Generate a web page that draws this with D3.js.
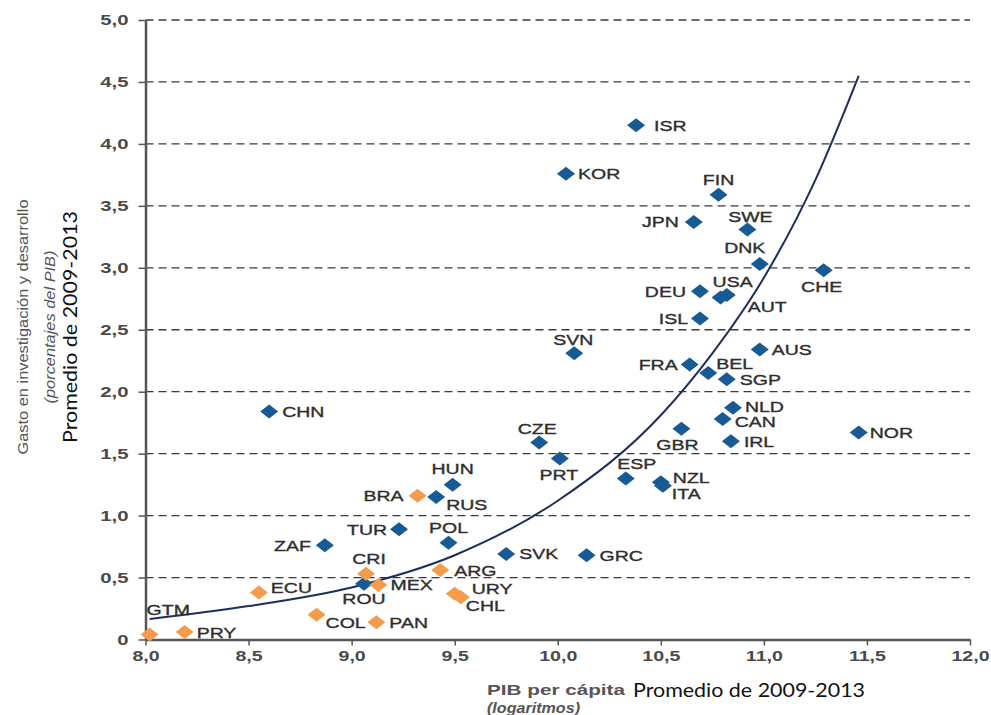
<!DOCTYPE html>
<html>
<head>
<meta charset="utf-8">
<script src="https://cdn.jsdelivr.net/npm/d3@7"></script>
<style>
  body { margin: 0; background: #fff; }
</style>
</head>
<body>
<div id="chart"></div>
<script>
// R&D spending vs. GDP per capita, averages 2009-2013
var countries = ["ISR","KOR","FIN","JPN","SWE","DNK","CHE","DEU","USA","AUT","ISL","SVN","FRA","BEL","SGP","AUS",
                 "NLD","CAN","GBR","IRL","NOR","CZE","PRT","ESP","NZL","ITA","SVK","GRC","HUN","RUS","TUR","POL",
                 "ZAF","ROU","CHN",
                 "BRA","CRI","ARG","MEX","ECU","URY","CHL","COL","PAN","GTM","PRY"];
var gdpLog  = [10.38,10.04,10.78,10.66,10.92,10.98,11.29,10.69,10.79,10.82,10.69,10.08,10.64,10.73,10.82,10.98,
               10.85,10.80,10.60,10.84,11.46, 9.91,10.01,10.33,10.50,10.51, 9.75,10.14, 9.49, 9.41, 9.23, 9.47,
                8.87, 9.06, 8.60,
                9.32, 9.07, 9.43, 9.13, 8.55, 9.50, 9.53, 8.83, 9.12, 8.02, 8.19];
var rdShare = [4.15,3.76,3.59,3.37,3.31,3.03,2.98,2.81,2.76,2.78,2.59,2.31,2.22,2.15,2.10,2.34,
               1.87,1.78,1.70,1.60,1.67,1.59,1.46,1.30,1.27,1.24,0.69,0.68,1.25,1.15,0.89,0.78,
               0.76,0.45,1.84,
               1.16,0.53,0.56,0.44,0.38,0.37,0.34,0.20,0.14,0.04,0.06];
var groups  = ["a","a","a","a","a","a","a","a","a","a","a","a","a","a","a","a",
               "a","a","a","a","a","a","a","a","a","a","a","a","a","a","a","a",
               "a","a","a",
               "b","b","b","b","b","b","b","b","b","b","b"];

// fitted trend curve
var trendX = [8.02, 8.5, 9.0, 9.5, 10.0, 10.5, 10.75, 11.0, 11.25, 11.46];
var trendY = [0.165, 0.27, 0.42, 0.68, 1.12, 1.81, 2.31, 2.92, 3.71, 4.55];

var yTicks = [0, 0.5, 1, 1.5, 2, 2.5, 3, 3.5, 4, 4.5, 5];
var xTicks = [8, 8.5, 9, 9.5, 10, 10.5, 11, 11.5, 12];

// label placement: [dx, dy, anchor] relative to the marker
var labelPos = {
  ISR:[18,0,"start"], KOR:[12,0,"start"], FIN:[0,-15,"middle"], JPN:[-15,0,"end"],
  SWE:[3,-13,"middle"], DNK:[-15,-16,"middle"], CHE:[-2,16,"middle"], DEU:[-14,0,"end"],
  USA:[12,-16,"middle"], AUT:[21,12,"start"], ISL:[-12,0,"end"], SVN:[-1,-14,"middle"],
  FRA:[-12,0,"end"], BEL:[8,-10,"start"], SGP:[13,0,"start"], AUS:[12,0,"start"],
  NLD:[12,-1,"start"], CAN:[12,3,"start"], GBR:[-4,16,"middle"], IRL:[13,0,"start"],
  NOR:[11,0,"start"], CZE:[-2,-14,"middle"], PRT:[-1,16,"middle"], ESP:[11,-15,"middle"],
  NZL:[12,-5,"start"], ITA:[9,8,"start"], SVK:[13,0,"start"], GRC:[13,0,"start"],
  HUN:[0,-16,"middle"], RUS:[10,8,"start"], TUR:[-12,0,"end"], POL:[0,-15,"middle"],
  ZAF:[-14,0,"end"], ROU:[0,15,"middle"], CHN:[13,0,"start"], BRA:[-14,0,"end"],
  CRI:[3,-15,"middle"], ARG:[14,0,"start"], MEX:[12,0,"start"], ECU:[12,-5,"start"],
  URY:[17,-5,"start"], CHL:[5,8,"start"], COL:[9,8,"start"], PAN:[13,0,"start"],
  GTM:[-3,-25,"start"], PRY:[12,1,"start"]
};

var colors = { a: "#175a94", b: "#f59c4c" };
var width = 991, height = 715;
var labelFont = "'Liberation Sans', Arial, sans-serif";

var svg = d3.select("#chart")
  .append("svg")
    .attr("width", width)
    .attr("height", height);

var x = d3.scaleLinear().domain([8, 12]).range([145.5, 970]);
var y = d3.scaleLinear().domain([0, 5]).range([639.5, 20]);

var comma = function(d) { return d === 0 ? "0" : d3.format(".1f")(d).replace(".", ","); };

// dashed gridlines
svg.append("g")
  .selectAll("line")
  .data(yTicks.filter(function(d) { return d > 0; }))
  .enter()
  .append("line")
    .attr("x1", x(8)).attr("x2", x(12))
    .attr("y1", function(d) { return y(d); })
    .attr("y2", function(d) { return y(d); })
    .attr("stroke", "#3a3a3a")
    .attr("stroke-width", 1.3)
    .attr("stroke-dasharray", "8,5");

// axes
var yAxis = svg.append("g")
  .attr("transform", "translate(" + x(8) + ",0)")
  .call(d3.axisLeft(y).tickValues(yTicks).tickSize(7).tickSizeOuter(0).tickPadding(10).tickFormat(comma));

var xAxis = svg.append("g")
  .attr("transform", "translate(0," + y(0) + ")")
  .call(d3.axisBottom(x).tickValues(xTicks).tickSize(6).tickSizeOuter(0).tickPadding(5).tickFormat(comma));

[yAxis, xAxis].forEach(function(ax) {
  ax.select(".domain").attr("stroke", "#555").attr("stroke-width", 2.5);
  ax.selectAll(".tick line").attr("stroke", "#555").attr("stroke-width", 1.5);
  ax.selectAll(".tick text")
    .attr("fill", "#4a4a4a")
    .style("font-family", labelFont)
    .style("font-size", "14.5px")
    .style("font-weight", "bold");
});
// stretch tick labels horizontally like the source
yAxis.selectAll(".tick text").attr("x", 0).attr("transform", "translate(-17,0) scale(1.4,1)");
xAxis.selectAll(".tick text").attr("transform", "scale(1.35,1)");

// trend curve
var trend = trendX.map(function(d, i) { return [d, trendY[i]]; });
svg.append("path")
  .datum(trend)
  .attr("fill", "none")
  .attr("stroke", "#1e2d5c")
  .attr("stroke-width", 2)
  .attr("d", d3.line()
    .x(function(d) { return x(d[0]); })
    .y(function(d) { return y(d[1]); })
    .curve(d3.curveMonotoneX));

// points
var points = countries.map(function(c, i) {
  return { code: c, gdp: gdpLog[i], rd: rdShare[i], group: groups[i] };
});
var ordered = points.filter(function(d) { return d.group === "a"; })
  .concat(points.filter(function(d) { return d.group === "b"; }));

svg.append("g")
  .selectAll("path")
  .data(ordered)
  .enter()
  .append("path")
    .attr("transform", function(d) { return "translate(" + x(d.gdp) + "," + y(d.rd) + ")"; })
    .attr("d", "M0,-7L9,0L0,7L-9,0Z")
    .attr("fill", function(d) { return colors[d.group]; });

// country labels
svg.append("g")
  .selectAll("g")
  .data(ordered)
  .enter()
  .append("g")
    .attr("transform", function(d) {
      var p = labelPos[d.code];
      return "translate(" + (x(d.gdp) + p[0]) + "," + (y(d.rd) + p[1]) + ") scale(1.3,1)";
    })
  .append("text")
    .attr("text-anchor", function(d) { return labelPos[d.code][2]; })
    .attr("dy", "0.36em")
    .attr("fill", "#2e2e2e")
    .attr("stroke", "#2e2e2e")
    .attr("stroke-width", 0.35)
    .style("font-family", labelFont)
    .style("font-size", "15px")
    .text(function(d) { return d.code; });

// y axis title
var yTitle = svg.append("g").attr("transform", "translate(0,327) rotate(-90)");
yTitle.append("text")
  .attr("y", 28).attr("text-anchor", "middle")
  .attr("textLength", 255).attr("lengthAdjust", "spacingAndGlyphs")
  .attr("fill", "#555")
  .style("font-family", labelFont).style("font-size", "15px")
  .text("Gasto en investigación y desarrollo");
yTitle.append("text")
  .attr("y", 55).attr("text-anchor", "middle")
  .attr("textLength", 153).attr("lengthAdjust", "spacingAndGlyphs")
  .attr("fill", "#555")
  .style("font-family", labelFont).style("font-size", "14px").style("font-style", "italic")
  .text("(porcentajes del PIB)");
yTitle.append("text")
  .attr("y", 77).attr("text-anchor", "middle")
  .attr("textLength", 232).attr("lengthAdjust", "spacingAndGlyphs")
  .attr("fill", "#111")
  .style("font-family", "Lato, 'Open Sans', sans-serif").style("font-size", "20px")
  .text("Promedio de 2009-2013");

// x axis title
svg.append("text")
  .attr("x", 487).attr("y", 695)
  .attr("textLength", 138).attr("lengthAdjust", "spacingAndGlyphs")
  .attr("fill", "#555")
  .style("font-family", labelFont).style("font-size", "14px").style("font-weight", "bold")
  .text("PIB per cápita");
svg.append("text")
  .attr("x", 633).attr("y", 697)
  .attr("textLength", 232).attr("lengthAdjust", "spacingAndGlyphs")
  .attr("fill", "#111")
  .style("font-family", "Lato, 'Open Sans', sans-serif").style("font-size", "20px")
  .text("Promedio de 2009-2013");
svg.append("text")
  .attr("x", 487).attr("y", 713)
  .attr("textLength", 93).attr("lengthAdjust", "spacingAndGlyphs")
  .attr("fill", "#555")
  .style("font-family", labelFont).style("font-size", "14px")
  .style("font-weight", "bold").style("font-style", "italic")
  .text("(logaritmos)");
</script>
</body>
</html>
